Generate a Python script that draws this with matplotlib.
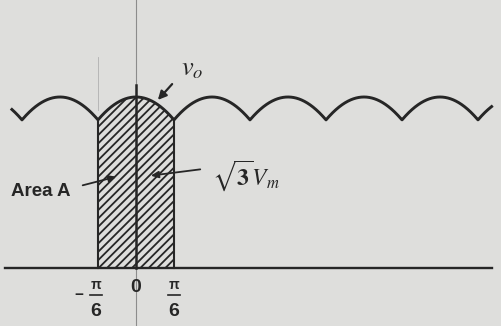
import numpy as np
import matplotlib
matplotlib.use('Agg')
from matplotlib import pyplot as plt

# waveform: six-pulse output, each arc is sqrt(3)*Vm*cos(theta) over one pi/3 interval
peak_level = 1.0                  # sqrt(3) Vm, normalised
half_width = np.pi / 6            # arc runs from -pi/6 to +pi/6 around each peak
wave_start, wave_end = -1.71, 4.90
baseline_start, baseline_end = -1.81, 4.90
area_limits = [-np.pi / 6, np.pi / 6]

tick_positions = [-np.pi / 6, 0.0, np.pi / 6]
tick_signs = ['−', '', '']

ink = '#262626'
paper = '#dededc'

plt.rcParams['mathtext.fontset'] = 'stix'
plt.rcParams['hatch.linewidth'] = 1.3

# pixel -> data helpers (figure is 501x326 px)
PX_RAD = 76 / (np.pi / 3)
PX_UNIT = 171.0
X0, Y0 = 136, 268


def px(x, y):
    return (x - X0) / PX_RAD, (Y0 - y) / PX_UNIT


def ripple(theta):
    phase = (theta + half_width) % (2 * half_width) - half_width
    return peak_level * np.cos(phase)


fig = plt.figure(figsize=(5.01, 3.26), dpi=100, facecolor=paper)
ax = fig.add_axes([0, 0, 1, 1])
ax.set_facecolor(paper)
ax.set_xlim(-X0 / PX_RAD, (501 - X0) / PX_RAD)
ax.set_ylim(-(326 - Y0) / PX_UNIT, Y0 / PX_UNIT)
ax.axis('off')

# vertical axis: faint pencil line, darker inside the shaded area
ax.axvline(0, color='#8c8c8c', lw=0.8, zorder=1)
ax.plot([0, 0], [0, px(0, 85)[1]], color=ink, lw=1.8, zorder=3)
ax.plot([area_limits[0]] * 2, [px(0, 110)[1], px(0, 57)[1]], color='#b0b0b0', lw=0.6, zorder=1)

# hatched area A
th = np.linspace(area_limits[0], area_limits[1], 200)
ax.fill_between(th, 0, ripple(th), facecolor='none', hatch='////', edgecolor=ink, linewidth=0, zorder=2)
for lim in area_limits:
    ax.plot([lim, lim], [0, ripple(np.array(lim))], color=ink, lw=1.5, zorder=3)

# output voltage ripple
theta = np.linspace(wave_start, wave_end, 2000)
ax.plot(theta, ripple(theta), color=ink, lw=2.1, solid_joinstyle='round', zorder=4)

# baseline
ax.plot([baseline_start, baseline_end], [0, 0], color=ink, lw=1.7, zorder=4)

# labels
ax.text(*px(192, 68), r'$\boldsymbol{v_o}$', fontsize=19, color=ink, ha='center', va='center')
ax.annotate('', xy=px(156, 102), xytext=px(174, 82),
            arrowprops=dict(arrowstyle='-|>,head_length=0.5,head_width=0.25', color=ink, lw=1.6))

ax.text(*px(212, 176), r'$\mathbf{\sqrt{3}}\boldsymbol{V_m}$', fontsize=17, color=ink, ha='left', va='center')
ax.annotate('', xy=px(148, 176), xytext=px(203, 169),
            arrowprops=dict(arrowstyle='-|>,head_length=0.45,head_width=0.2', color=ink, lw=1.3))

ax.text(*px(11, 191), 'Area A', fontsize=13.5, fontweight='bold', color=ink,
        family=['Liberation Sans', 'DejaVu Sans'], ha='left', va='center')
ax.annotate('', xy=px(119, 176), xytext=px(80, 186),
            arrowprops=dict(arrowstyle='-|>,head_length=0.45,head_width=0.2', color=ink, lw=1.3))

# tick labels under the baseline
tick_font = dict(family=['Liberation Sans', 'DejaVu Sans'], fontweight='bold', color=ink)
ly_num, ly_bar, ly_den = px(0, 285)[1], px(0, 295)[1], px(0, 311)[1]
for pos, sign in zip(tick_positions, tick_signs):
    if pos == 0:
        ax.text(pos, px(0, 287)[1], '0', fontsize=14, ha='center', va='center', **tick_font)
        continue
    cx = pos - 2 / PX_RAD if pos < 0 else pos
    ax.text(cx, ly_num, 'π', fontsize=10, ha='center', va='center', **tick_font)
    ax.plot([cx - 6 / PX_RAD, cx + 6 / PX_RAD], [ly_bar, ly_bar], color=ink, lw=1.2)
    ax.text(cx, ly_den, '6', fontsize=14, ha='center', va='center', **tick_font)
    if sign:
        ax.text(cx - 17 / PX_RAD, ly_bar, sign, fontsize=11, ha='center', va='center', **tick_font)

fig.savefig('out.png', dpi=100, facecolor=paper)
